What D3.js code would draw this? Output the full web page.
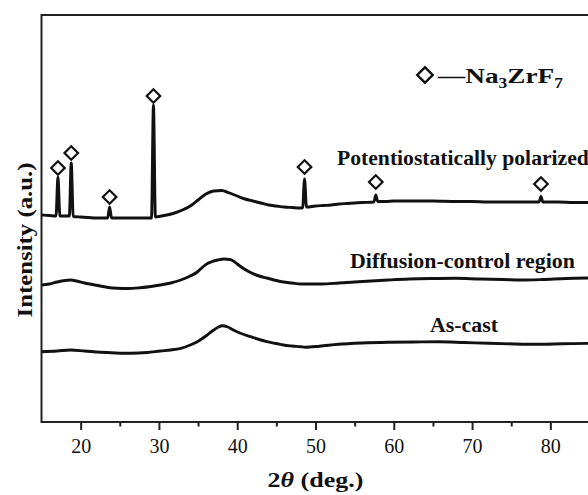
<!DOCTYPE html>
<html>
<head>
<meta charset="utf-8">
<script src="https://cdn.jsdelivr.net/npm/d3@7"></script>
<style>
  html, body { margin: 0; padding: 0; background: #fff; }
  svg { display: block; }
  text { font-family: "Liberation Serif", "Times New Roman", serif; fill: #111; }
</style>
</head>
<body>
<svg id="chart" width="588" height="495"></svg>
<script>
// ---------------- DATA ----------------
const majorTicks = [20, 30, 40, 50, 60, 70, 80];
const minorTicks = [25, 35, 45, 55, 65, 75];

const seriesNames = ["Potentiostatically polarized", "Diffusion-control region", "As-cast"];

// [2theta (deg), intensity (a.u., offset stacked)]
const polarized = [
  [15,207],[16,206.5],[16.85,206],[17.1,245],[17.35,206],[18,206],[18.55,206],[18.8,259],[19.05,205.5],
  [20,205],[21,204.5],[22,204],[23.45,204],[23.7,215],[23.95,204],[25,204],[26,204],[27,204],[28,204],
  [29.05,204],[29.3,317],[29.55,205],[30,205.5],[31,207],[32,209],[33,212],[34,216],[35,222],[36,228],
  [37,231],[38,231.5],[39,229],[40,226],[41,223],[42,221],[43,219],[44,217],[45,216],[46,215],[47,214.5],
  [48,214],[48.35,214],[48.6,243],[48.85,215],[50,216],[51,216.5],[52,217],[53,218],[54,218.5],[55,219],
  [56,219.5],[57.45,220],[57.7,227],[57.95,220.5],[59,220.5],[60,221],[62,221],[65,221],[68,220.5],
  [70,220.5],[72,220],[75,220],[78.55,220],[78.8,225.5],[79.05,220],[81,220],[83,219.5],[85,219.5]
];

const diffusion = [
  [15,137],[16,138],[17,140],[18,141.5],[18.7,142],[19.5,141],[20.5,139],[21.5,137.5],[22.5,136],
  [23.5,134.5],[24.7,133.7],[26,133.5],[27.6,134.3],[29,135.5],[30.2,137],[31.5,139],[32.8,142],
  [34,146],[34.9,150],[35.6,155],[36.2,158.5],[37,161],[37.5,162],[38.3,163],[39.1,162.5],[39.6,160.5],
  [40,158],[40.8,153.5],[41.7,149.5],[42.8,146],[43.8,144],[45,141.5],[45.9,140],[47,139],[48.1,138],
  [50.8,138],[53,139],[56,140.5],[59.3,142],[62,143],[65,143.5],[67.9,143.7],[71,143],[74,142.5],
  [76.3,142],[79,142.5],[82,143.5],[85,144]
];

const asCast = [
  [15,70.3],[17,71],[18.7,72],[20.5,71],[22.5,69.7],[24.5,69],[26.4,68.7],[28.5,69.5],[30.2,71],
  [31.5,72],[32.8,73.7],[34,77],[34.9,80.3],[36,86],[37,92],[37.6,95],[38.1,96.3],[38.8,95],[39.5,92],
  [40.5,88.5],[41.7,85.3],[42.8,82.5],[43.8,80.3],[45,78.5],[45.9,77],[47,76],[48.1,75.3],[48.7,74.8],
  [50.5,75.8],[52.9,77.7],[56,79],[59.3,79.7],[62.5,80],[65.7,80.3],[69,79.5],[72.1,78.7],[75.5,78],
  [78.5,77.7],[81.5,78.2],[85,78.7]
];

// Na3ZrF7 peak markers: [2theta, marker height (a.u.)]
const markers = [[17.1,254],[18.8,269],[23.7,225],[29.3,326],[48.6,255],[57.7,240],[78.8,238]];

// ---------------- CHART ----------------
const svg = d3.select("#chart");
const x = d3.scaleLinear().domain([15, 85]).range([41.5, 589.5]);
const y = d3.scaleLinear().domain([0, 407]).range([422, 15]);

// frame
svg.append("rect")
  .attr("x", x.range()[0]).attr("y", y.range()[1])
  .attr("width", x.range()[1] - x.range()[0])
  .attr("height", y.range()[0] - y.range()[1])
  .attr("fill", "none").attr("stroke", "#222").attr("stroke-width", 2);

// axes
const gx = svg.append("g").attr("transform", `translate(0,${y.range()[0]})`);
gx.call(d3.axisBottom(x).tickValues(majorTicks).tickSize(8).tickFormat(d3.format("d")));
gx.select(".domain").remove();
gx.selectAll(".tick line").attr("stroke", "#222").attr("stroke-width", 2);
gx.selectAll(".tick text").attr("y", 31).attr("dy", 0)
  .style("font-family", '"Liberation Serif", serif').style("font-size", "20px").attr("fill", "#222");

const gm = svg.append("g").attr("transform", `translate(0,${y.range()[0]})`);
gm.call(d3.axisBottom(x).tickValues(minorTicks).tickSize(4.5).tickFormat(""));
gm.select(".domain").remove();
gm.selectAll(".tick line").attr("stroke", "#222").attr("stroke-width", 2);

// lines
const line = d3.line().x(d => x(d[0])).y(d => y(d[1])).curve(d3.curveMonotoneX);
[polarized, diffusion, asCast].forEach(s => {
  svg.append("path").datum(s)
    .attr("d", line)
    .attr("fill", "none").attr("stroke", "#111").attr("stroke-width", 2.9)
    .attr("stroke-linejoin", "round");
});

// markers
const diamond = d3.symbol().type(d3.symbolSquare).size(92);
svg.selectAll(".mk").data(markers).join("path")
  .attr("class", "mk")
  .attr("d", diamond)
  .attr("transform", d => `translate(${x(d[0])},${y(d[1])}) rotate(45)`)
  .attr("fill", "#fff").attr("stroke", "#111").attr("stroke-width", 2.2);

// helper to fit text horizontally
function fitText(sel, tx, ty, width, rot) {
  const w = sel.node().getComputedTextLength();
  const sx = width / w;
  sel.attr("transform", `translate(${tx},${ty})` + (rot ? ` rotate(${rot})` : "") + ` scale(${sx},1)`);
}

// series labels
const labelPos = [[337, 165, 252], [350, 268, 225], [430, 332, 68]];
seriesNames.forEach((name, i) => {
  const t = svg.append("text").text(name)
    .attr("x", 0).attr("y", 0)
    .style("font-size", "20px").style("font-weight", "bold");
  fitText(t, labelPos[i][0], labelPos[i][1], labelPos[i][2]);
});

// legend
svg.append("path").attr("d", d3.symbol().type(d3.symbolSquare).size(120))
  .attr("transform", "translate(425,75) rotate(45)")
  .attr("fill", "#fff").attr("stroke", "#111").attr("stroke-width", 2.4);
const lg = svg.append("text").attr("x", 0).attr("y", 0)
  .style("font-size", "22px").style("font-weight", "bold");
lg.append("tspan").text("\u2014Na");
lg.append("tspan").text("3").attr("dy", 5).style("font-size", "14px");
lg.append("tspan").text("ZrF").attr("dy", -5);
lg.append("tspan").text("7").attr("dy", 5).style("font-size", "14px");
fitText(lg, 438, 82.5, 125);

// axis titles
const xt = svg.append("text").attr("x", 0).attr("y", 0)
  .attr("text-anchor", "middle").style("font-size", "22px").style("font-weight", "bold");
xt.append("tspan").text("2");
xt.append("tspan").text("\u03B8").style("font-style", "italic");
xt.append("tspan").text(" (deg.)");
fitText(xt, (x.range()[0] + x.range()[1]) / 2, 487, 96);

const yt = svg.append("text").attr("x", 0).attr("y", 0)
  .attr("text-anchor", "middle").style("font-size", "22px").style("font-weight", "bold")
  .text("Intensity (a.u.)");
fitText(yt, 32, 240, 155, -90);
</script>
</body>
</html>
